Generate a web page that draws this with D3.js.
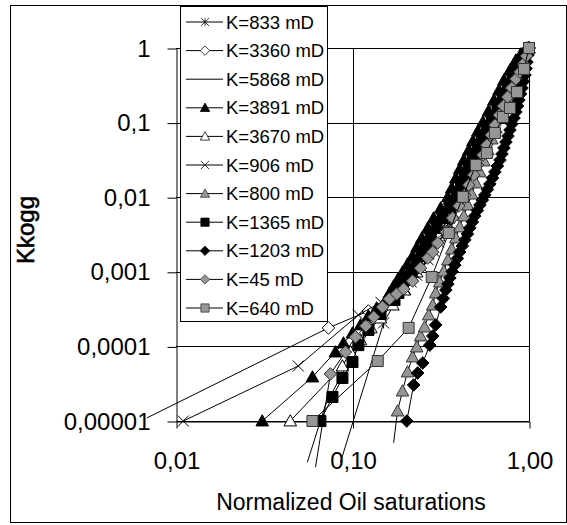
<!DOCTYPE html>
<html><head><meta charset="utf-8">
<script src="https://cdn.jsdelivr.net/npm/d3@7"></script>
<style>body{margin:0;background:#fff}svg{display:block}</style>
</head><body><svg id="c" width="567" height="525"></svg>
<script>
// ---- data ----
const seriesLabels = ["K=833 mD","K=3360 mD","K=5868 mD","K=3891 mD","K=3670 mD","K=906 mD","K=800 mD","K=1365 mD","K=1203 mD","K=45 mD","K=640 mD"];
const yTickValues = [1e-5,1e-4,1e-3,1e-2,1e-1,1];
const yTickLabels = ["0,00001","0,0001","0,001","0,01","0,1","1"];
const xTickValues = [0.01,0.1,1];
const xTickLabels = ["0,01","0,10","1,00"];

const k833X = [0.0855,0.150,0.171,0.195,0.222,0.253,0.288,0.325,0.365,0.405,0.450,0.500,0.548,0.600,0.658,0.721,0.790,0.855,0.925,1.0];
const k833Y = [2.8e-6,2.06e-4,3.59e-4,5.70e-4,9.64e-4,1.63e-3,2.84e-3,4.80e-3,8.11e-3,0.0137,0.0232,0.0391,0.0661,0.108,0.172,0.265,0.396,0.556,0.757,1.0];
const k3360X = [0.00684,0.0731,0.123,0.164,0.203,0.243,0.288,0.338,0.390,0.444,0.500,0.562,0.624,0.685,0.750,0.822,0.889,0.949,1.0];
const k3360Y = [1.1e-5,1.77e-4,2.98e-4,4.46e-4,7.30e-4,1.35e-3,2.43e-3,4.37e-3,8.11e-3,0.0146,0.0262,0.0471,0.0847,0.143,0.234,0.372,0.556,0.782,1.0];
const k5868X = [0.0555,0.0703,0.0912,0.119,0.154,0.200,0.260,0.338,0.422,0.520,0.624,0.740,0.855,1.0];
const k5868Y = [2.8e-6,1.64e-5,5.13e-5,1.38e-4,3.08e-4,6.65e-4,1.68e-3,4.65e-3,0.0125,0.0335,0.0847,0.201,0.435,1.0];
const k3891X = [0.0308,0.0593,0.0800,0.0889,0.100,0.111,0.123,0.137,0.154,0.162,0.171,0.181,0.192,0.205,0.219,0.232,0.247,0.267,0.288,0.316,0.347,0.365,0.385,0.405,0.427,0.456,0.481,0.513,0.548,0.589,0.633,0.676,0.721,0.780,0.843,0.901,0.974];
const k3891Y = [1e-5,3.89e-5,8.41e-5,1.11e-4,1.51e-4,1.94e-4,2.56e-4,3.27e-4,4.19e-4,5.20e-4,6.45e-4,8.00e-4,9.94e-4,1.27e-3,1.63e-3,2.15e-3,2.84e-3,3.87e-3,5.26e-3,7.16e-3,0.0101,0.0133,0.0181,0.0239,0.0315,0.0430,0.0567,0.0771,0.102,0.143,0.201,0.274,0.372,0.507,0.690,0.831,1.0];
const k3670X = [0.0444,0.0877,0.0975,0.111,0.127,0.144,0.169,0.197,0.231,0.267,0.308,0.351,0.395,0.438,0.487,0.541,0.593,0.649,0.712,0.780,0.843,0.913,1.0];
const k3670Y = [1e-5,5.46e-5,8.41e-5,1.22e-4,1.77e-4,2.40e-4,3.59e-4,5.70e-4,9.94e-4,1.73e-3,3.02e-3,5.26e-3,9.17e-3,0.0155,0.0262,0.0443,0.0748,0.123,0.195,0.300,0.448,0.649,1.0];
const k906X = [0.0110,0.0493,0.108,0.145,0.200,0.215,0.231,0.248,0.268,0.288,0.307,0.331,0.352,0.376,0.403,0.425,0.449,0.472,0.498,0.524,0.552,0.590,0.622,0.677,0.705,0.757,0.80,0.86,0.90,0.94,1.0];
const k906Y = [1e-5,5.46e-5,2.64e-4,3.9e-4,5.8e-4,7.3e-4,9e-4,1.15e-3,1.45e-3,1.9e-3,2.5e-3,3.4e-3,4.5e-3,6.2e-3,8.5e-3,0.0115,0.0157,0.021,0.0275,0.037,0.049,0.066,0.088,0.125,0.17,0.24,0.32,0.45,0.60,0.78,1.0];
const k800X = [0.171,0.180,0.192,0.205,0.219,0.231,0.243,0.256,0.270,0.285,0.296,0.312,0.329,0.347,0.365,0.385,0.405,0.427,0.450,0.474,0.500,0.527,0.555,0.585,0.616,0.649,0.685,0.721,0.760,0.800,0.843,0.889,0.937,1.0];
const k800Y = [5.1e-6,1.36e-5,2.52e-5,4.54e-5,7.21e-5,9.82e-5,1.38e-4,1.82e-4,2.64e-4,3.59e-4,5.20e-4,7.30e-4,1.02e-3,1.44e-3,2.02e-3,2.84e-3,3.99e-3,5.60e-3,7.86e-3,0.0110,0.0155,0.0218,0.0306,0.0430,0.0603,0.0847,0.119,0.162,0.220,0.300,0.409,0.556,0.734,1.0];
const k1365X = [0.0658,0.0770,0.0877,0.100,0.108,0.123,0.144,0.173,0.182,0.192,0.204,0.216,0.231,0.246,0.261,0.278,0.300,0.324,0.356,0.390,0.411,0.433,0.456,0.480,0.513,0.541,0.577,0.617,0.663,0.712,0.760,0.811,0.86,0.90,0.95,1.0];
const k1365Y = [1e-5,2.10e-5,3.77e-5,6.18e-5,1.04e-4,1.66e-4,2.72e-4,4.19e-4,5.20e-4,6.45e-4,8.00e-4,9.94e-4,1.27e-3,1.63e-3,2.15e-3,2.84e-3,3.87e-3,5.26e-3,7.16e-3,0.0101,0.0133,0.0181,0.0239,0.0315,0.0430,0.0567,0.0771,0.102,0.143,0.201,0.274,0.372,0.507,0.690,0.831,1.0];
const k1203X = [0.203,0.222,0.234,0.250,0.274,0.285,0.296,0.316,0.327,0.338,0.347,0.356,0.367,0.380,0.393,0.405,0.419,0.433,0.448,0.462,0.478,0.493,0.510,0.527,0.544,0.562,0.581,0.600,0.621,0.641,0.662,0.685,0.703,0.721,0.740,0.760,0.780,0.800,0.822,0.843,0.861,0.877,0.895,0.913,0.931,0.949,0.962,0.974,0.987,1.0];
const k1203Y = [1e-5,3.04e-5,4.40e-5,5.99e-5,1.04e-4,1.38e-4,1.94e-4,3.37e-4,4.39e-4,5.70e-4,6.86e-4,8.26e-4,1.01e-3,1.23e-3,1.51e-3,1.84e-3,2.22e-3,2.67e-3,3.21e-3,3.87e-3,4.65e-3,5.60e-3,6.63e-3,7.86e-3,9.17e-3,0.0107,0.0127,0.0150,0.0181,0.0218,0.0262,0.0315,0.0379,0.0457,0.0549,0.0661,0.0796,0.0958,0.115,0.139,0.167,0.201,0.242,0.291,0.356,0.435,0.531,0.649,0.805,1.0];
const k45X = [0.0617,0.0750,0.0912,0.104,0.119,0.132,0.148,0.162,0.178,0.195,0.219,0.243,0.267,0.285,0.304,0.339,0.369,0.401,0.432,0.456,0.486,0.512,0.548,0.577,0.610,0.642,0.679,0.717,0.757,0.798,0.843,0.889,0.928,0.968,1.0];
const k45Y = [2.4e-6,4.27e-5,8.41e-5,1.34e-4,1.88e-4,2.48e-4,3.37e-4,4.32e-4,5.04e-4,5.88e-4,7.53e-4,1.12e-3,1.53e-3,1.84e-3,2.43e-3,3.42e-3,5.26e-3,7.62e-3,0.0107,0.0146,0.0199,0.0270,0.0368,0.0501,0.0682,0.0928,0.126,0.167,0.220,0.291,0.384,0.477,0.610,0.782,1.0];
const k640X = [0.0593,0.139,0.208,0.281,0.351,0.422,0.500,0.577,0.641,0.712,0.780,0.855,0.937,1.0];
const k640Y = [1e-5,6.37e-5,1.77e-4,8.51e-4,3.31e-3,0.0101,0.0270,0.0391,0.0726,0.119,0.157,0.257,0.523,1.0];

const xsAll = [k833X,k3360X,k5868X,k3891X,k3670X,k906X,k800X,k1365X,k1203X,k45X,k640X];
const ysAll = [k833Y,k3360Y,k5868Y,k3891Y,k3670Y,k906Y,k800Y,k1365Y,k1203Y,k45Y,k640Y];
const markerStyle = [
  {t:"star", fill:"none", stroke:"#000"},
  {t:"diamond", fill:"#fff", stroke:"#000"},
  {t:"none"},
  {t:"tri", fill:"#000", stroke:"#000"},
  {t:"tri", fill:"#fff", stroke:"#000"},
  {t:"x", fill:"none", stroke:"#000"},
  {t:"tri", fill:"#969696", stroke:"#333"},
  {t:"square", fill:"#000", stroke:"#000"},
  {t:"diamond", fill:"#000", stroke:"#000"},
  {t:"diamond", fill:"#969696", stroke:"#333"},
  {t:"square", fill:"#969696", stroke:"#333"}
];

const FONT = "'Liberation Sans', Arial, sans-serif";
const svg = d3.select("#c");
svg.append("rect").attr("x",10.5).attr("y",5.5).attr("width",556).attr("height",517)
  .attr("fill","#fff").attr("stroke","#000").attr("stroke-width",1);

const x = d3.scaleLog().domain([0.01,1]).range([176,529]);
const y = d3.scaleLog().domain([1e-5,1]).range([421,48]);

// gridlines
svg.append("g").selectAll("line").data(yTickValues).join("line")
  .attr("x1",x(0.01)).attr("x2",x(1)).attr("y1",d=>Math.round(y(d))+0.5).attr("y2",d=>Math.round(y(d))+0.5)
  .attr("stroke","#000");
svg.append("g").selectAll("line").data([0.1,1]).join("line")
  .attr("y1",y(1)).attr("y2",y(1e-5)).attr("x1",d=>Math.round(x(d))+0.5).attr("x2",d=>Math.round(x(d))+0.5)
  .attr("stroke","#000");

// axes
const yAxis = d3.axisLeft(y).tickValues(yTickValues).tickFormat((d,i)=>yTickLabels[i]).tickSize(9).tickPadding(17).tickSizeOuter(0);
const gy = svg.append("g").attr("transform",`translate(${Math.round(x(0.01))+0.5},0.5)`).call(yAxis);
const xAxis = d3.axisBottom(x).tickValues(xTickValues).tickFormat((d,i)=>xTickLabels[i]).tickSize(7).tickPadding(23).tickSizeOuter(0);
const gx = svg.append("g").attr("transform",`translate(0.5,${Math.round(y(1e-5))+0.5})`).call(xAxis);
[gy,gx].forEach(g=>{
  g.select(".domain").attr("stroke","#000");
  g.selectAll(".tick line").attr("stroke","#000");
  g.selectAll(".tick text").attr("fill","#000").style("font-family",FONT).style("font-size","24px");
});

// markers
function markerPath(t){
  const r = 5.5;
  switch(t){
    case "diamond": return `M0,${-r-0.8}L${r+0.8},0L0,${r+0.8}L${-r-0.8},0Z`;
    case "tri": return `M0,${-r-0.8}L${r+0.8},${r*0.9}L${-r-0.8},${r*0.9}Z`;
    case "square": return `M${-r},${-r}H${r}V${r}H${-r}Z`;
    case "x": return `M${-r},${-r}L${r},${r}M${-r},${r}L${r},${-r}`;
    case "star": return `M${-r},${-r}L${r},${r}M${-r},${r}L${r},${-r}M0,${-r}V${r}`;
  }
  return "";
}
const line = d3.line().x(d=>x(d[0])).y(d=>y(d[1]));
xsAll.forEach((xs,i)=>{
  const pts = xs.map((v,j)=>[v, ysAll[i][j]]);
  const g = svg.append("g");
  g.append("path").attr("d",line(pts)).attr("fill","none").attr("stroke","#000").attr("stroke-width",1);
  const m = markerStyle[i];
  if(m.t!=="none"){
    g.selectAll("path.m").data(pts.filter(p=>p[0]>=0.0099 && p[1]>=0.99e-5)).join("path")
      .attr("class","m").attr("d",markerPath(m.t))
      .attr("transform",p=>`translate(${x(p[0])},${y(p[1])})`)
      .attr("fill",m.fill).attr("stroke",m.stroke).attr("stroke-width",1);
  }
});

// legend
const lg = svg.append("g");
lg.append("rect").attr("x",180.5).attr("y",6.5).attr("width",147).attr("height",315)
  .attr("fill","#fff").attr("stroke","#000");
seriesLabels.forEach((lab,i)=>{
  const cy = 22 + i*28.6;
  lg.append("line").attr("x1",186).attr("x2",223).attr("y1",cy).attr("y2",cy).attr("stroke","#000");
  const m = markerStyle[i];
  if(m.t!=="none"){
    lg.append("path").attr("d",markerPath(m.t)).attr("transform",`translate(205,${cy}) scale(0.75)`)
      .attr("fill",m.fill).attr("stroke",m.stroke);
  }
  lg.append("text").attr("x",226).attr("y",cy).attr("dy","0.36em").text(lab)
    .style("font-family",FONT).style("font-size","18.5px").attr("fill","#000");
});

// titles
svg.append("text").attr("x",351).attr("y",510).attr("text-anchor","middle")
  .style("font-family",FONT).style("font-size","23px").text("Normalized Oil saturations");
svg.append("text").attr("transform","translate(34,230) rotate(-90)").attr("text-anchor","middle")
  .style("font-family",FONT).style("font-size","24px").attr("stroke","#000").attr("stroke-width",0.6)
  .text("Kkogg");
</script></body></html>
